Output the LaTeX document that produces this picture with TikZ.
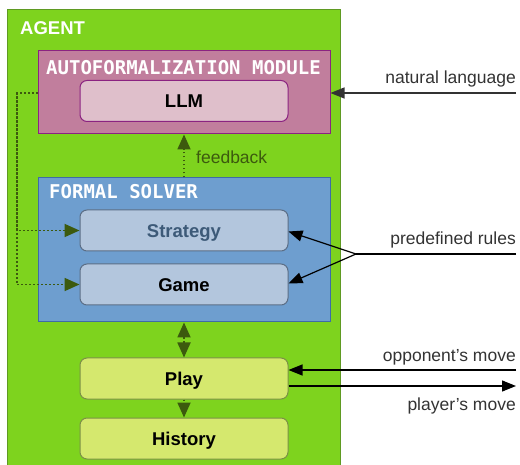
\documentclass[tikz,border=0pt]{standalone}
\usepackage{fontspec}
\setmainfont{Liberation Sans}
\setmonofont{DejaVu Sans Mono}
\usepackage{tikz}
\usetikzlibrary{arrows.meta,calc,positioning}

\definecolor{agentgreen}{HTML}{7ED31E}
\definecolor{agentline}{HTML}{5F9A22}
\definecolor{modfill}{HTML}{C17E9D}
\definecolor{modline}{HTML}{8B2381}
\definecolor{llmfill}{HTML}{DFBFCB}
\definecolor{solverfill}{HTML}{6E9ECF}
\definecolor{solverline}{HTML}{3E6CA6}
\definecolor{partfill}{HTML}{B3C6DD}
\definecolor{partline}{HTML}{5B6E86}
\definecolor{strattext}{HTML}{3D5A78}
\definecolor{playfill}{HTML}{D5E86E}
\definecolor{playline}{HTML}{7B9146}
\definecolor{dgreen}{HTML}{3C5A0E}
\definecolor{extline}{HTML}{333333}

\tikzset{
  inbox/.style={draw,rounded corners=7pt,line width=1pt,minimum width=208pt,
    minimum height=41pt,text height=13.5pt,text depth=0pt,
    font=\fontsize{18.5}{20}\selectfont\bfseries},
  title/.style={anchor=west,inner sep=0pt,text=white,
    font=\fontsize{19}{20}\selectfont\ttfamily\bfseries},
  label/.style={anchor=base east,inner sep=0pt,text=extline,
    font=\fontsize{17.5}{20}\selectfont},
  dots/.style={dgreen,line width=1.8pt,dash pattern=on 1.8pt off 2.2pt,
    -{Triangle[length=15pt,width=13pt]}},
  ext/.style={line width=1.2pt,-{Triangle[length=14pt,width=11pt]}}
}

\begin{document}
\begin{tikzpicture}[x=1pt,y=-1pt]
  \useasboundingbox (0,0) rectangle (520,465);

  % agent
  \node[draw=agentline,fill=agentgreen,line width=1pt,minimum width=333pt,
    minimum height=462pt,inner sep=0pt] (agent) at (173.5,241) {};
  \node[anchor=west,inner sep=0pt,text=white,
    font=\fontsize{18.5}{20}\selectfont\bfseries] (agenttitle) at (20,28) {AGENT};

  % autoformalization module
  \node[draw=modline,fill=modfill,line width=1pt,minimum width=292pt,
    minimum height=83pt,inner sep=0pt] (module) at (184,92.5) {};
  \node[title] (moduletitle) at (46,68) {AUTOFORMALIZATION MODULE};
  \node[inbox,draw=modline,fill=llmfill] (llm) at (184,101) {LLM};

  % formal solver
  \node[draw=solverline,fill=solverfill,line width=1pt,minimum width=292pt,
    minimum height=144pt,inner sep=0pt] (solver) at (184,250) {};
  \node[title] (solvertitle) at (49,192) {FORMAL SOLVER};
  \node[inbox,draw=partline,fill=partfill,text=strattext] (strategy) at (184,230.5) {Strategy};
  \node[inbox,draw=partline,fill=partfill] (game) at (184,284.5) {Game};

  % play and history
  \node[inbox,draw=playline,fill=playfill] (play) at (184,378.5) {Play};
  \node[inbox,draw=playline,fill=playfill] (history) at (184,438.5) {History};

  % inner connectors
  \draw[dots] (solver.north) -- (module.south);
  \node[anchor=base west,inner sep=0pt,text=dgreen,
    font=\fontsize{17.5}{20}\selectfont] (feedback) at (196,164) {feedback};
  \coordinate (looptop) at (17,93);
  \draw[dots] (module.west |- looptop) -- (looptop) |- (strategy.west);
  \draw[dots] (looptop) |- (game.west);
  \draw[dots,{Triangle[length=15pt,width=13pt]}-{Triangle[length=15pt,width=13pt]}]
    (solver.south) -- (play.north);
  \draw[dots] (play.south) -- (history.north);

  % outside inputs and outputs
  \coordinate (natin) at (516,93);
  \draw[ext,extline] (natin) -- (module.east |- natin);
  \node[label] (natlabel) at (516,83.3) {natural language};

  \coordinate (rulesin) at (516,254);
  \coordinate (rulessplit) at (356,254);
  \draw[line width=1.2pt] (rulesin) -- (rulessplit);
  \draw[ext] (rulessplit) -- ($(strategy.east)+(0,1)$);
  \draw[ext] (rulessplit) -- ($(game.east)+(0,-1)$);
  \node[label] (ruleslabel) at (516,245) {predefined rules};

  \coordinate (oppin) at (516,370);
  \coordinate (playout) at (516,386);
  \draw[ext] (oppin) -- (play.east |- oppin);
  \draw[ext] (play.east |- playout) -- (playout);
  \node[label] (opplabel) at (516,361.7) {opponent’s move};
  \node[label] (playlabel) at (516,410.7) {player’s move};
\end{tikzpicture}
\end{document}
